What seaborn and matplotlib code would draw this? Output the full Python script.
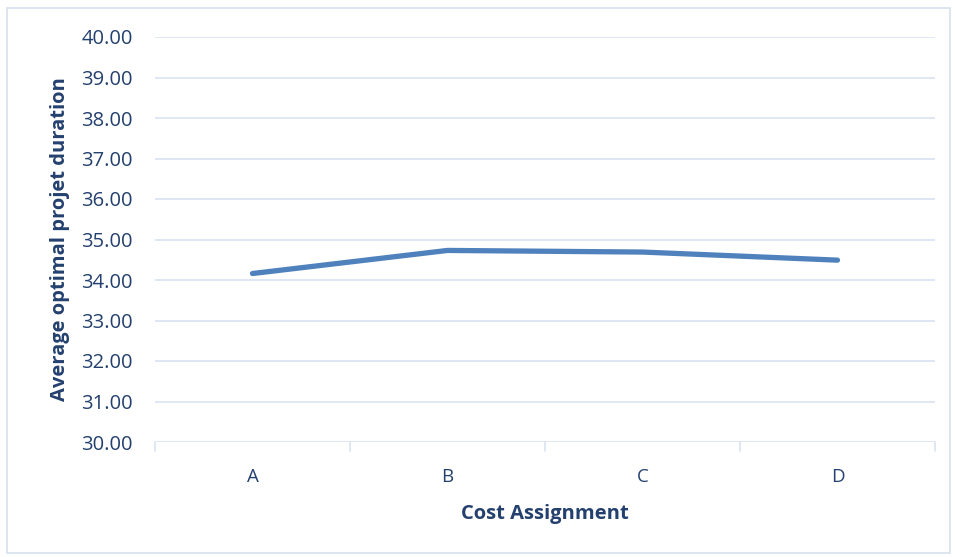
import matplotlib
matplotlib.use("Agg")
import matplotlib.pyplot as plt
import seaborn as sns
import pandas as pd
from matplotlib.patches import Rectangle

categories = ["A", "B", "C", "D"]
durations = [34.16, 34.73, 34.69, 34.49]
y_ticks = [30, 31, 32, 33, 34, 35, 36, 37, 38, 39, 40]

text_color = "#24406E"
grid_color = "#D9E1F2"
line_color = "#4F81BD"

sns.set_theme(style="white")
plt.rcParams["font.family"] = ["Open Sans", "DejaVu Sans"]

df = pd.DataFrame({"Cost Assignment": categories, "Duration": durations})
df["pos"] = range(len(categories))

fig = plt.figure(figsize=(9.55, 5.57), dpi=100)
ax = fig.add_axes([155 / 955, 1 - 442 / 557, 780 / 955, 405 / 557])

sns.lineplot(data=df, x="pos", y="Duration", ax=ax, color=line_color,
             linewidth=3.8, solid_capstyle="round", sort=False)

ax.set_xlim(-0.5, len(categories) - 0.5)
ax.set_ylim(30, 40)
ax.set_yticks(y_ticks)
ax.set_yticklabels([f"{v:.2f}" for v in y_ticks], color=text_color, fontsize=14.5)
ax.set_xticks(range(len(categories)))
ax.set_xticklabels(categories, color=text_color, fontsize=13.5)
ax.tick_params(axis="y", length=0, pad=16)
ax.tick_params(axis="x", length=0, pad=19)

for y in y_ticks:
    ax.axhline(y, color=grid_color, linewidth=1.2, zorder=0)
for x in [i - 0.5 for i in range(len(categories) + 1)]:
    ax.plot([x, x], [30, 29.77], color=grid_color, linewidth=1.2, clip_on=False)

for s in ax.spines.values():
    s.set_visible(False)

ax.set_xlabel("Cost Assignment", color=text_color, fontsize=14.5, fontweight="bold", labelpad=13)
ax.set_ylabel("Average optimal projet duration", color=text_color, fontsize=14.5,
              fontweight="bold", labelpad=8)

fig.patches.append(Rectangle((7 / 955, 1 - 553 / 557), 943 / 955, 545 / 557,
                             transform=fig.transFigure, fill=False,
                             edgecolor="#D6E0EE", linewidth=1.2))

fig.savefig("out.png", dpi=100)
